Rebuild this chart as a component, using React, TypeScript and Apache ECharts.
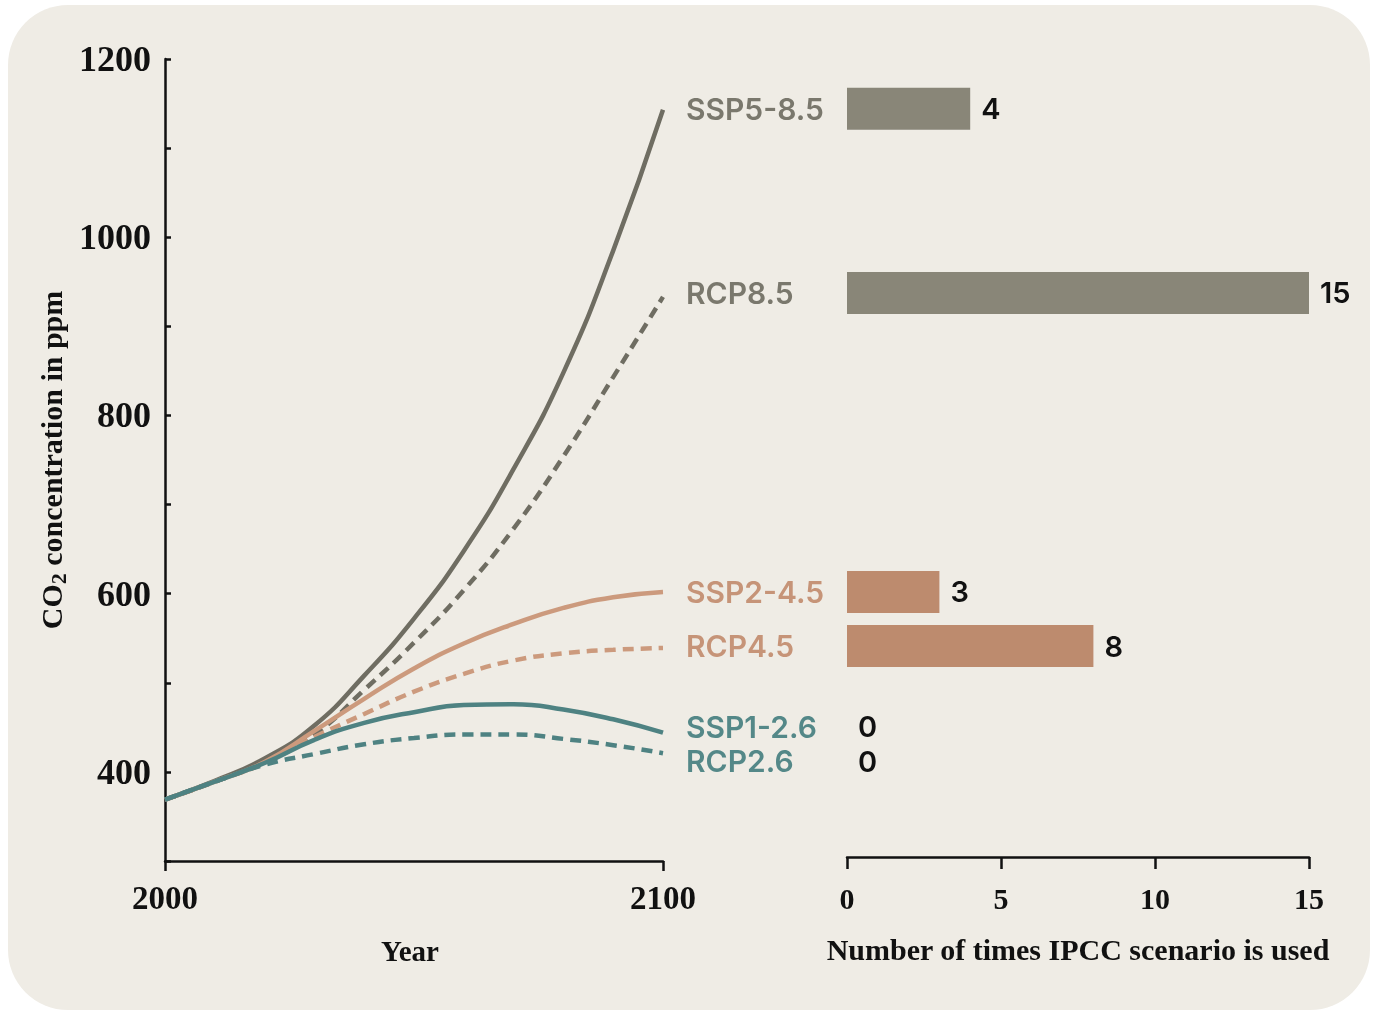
import React, { useEffect, useRef } from "react";
import * as echarts from "echarts";

// ---------- data ----------
const years = [2000, 2010, 2020, 2030, 2040, 2050, 2060, 2070, 2080, 2090, 2100];
const ssp585 = [369, 390, 415, 452, 508, 572, 648, 740, 848, 985, 1143];
const rcp85 = [369, 389, 412, 442, 492, 545, 604, 673, 754, 843, 933];
const ssp245 = [369, 389, 411, 446, 482, 516, 544, 566, 584, 596, 602];
const rcp45 = [369, 389, 410, 439, 465, 490, 510, 525, 533, 537, 539];
const ssp126 = [369, 389, 410, 436, 455, 467, 475, 476, 470, 459, 444];
const rcp26 = [369, 389, 408, 420, 431, 438, 442, 442, 437, 430, 421];

const scenarioNames = ["SSP5-8.5", "RCP8.5", "SSP2-4.5", "RCP4.5", "SSP1-2.6", "RCP2.6"];
const scenarioValues = [ssp585, rcp85, ssp245, rcp45, ssp126, rcp26];
const timesUsed = [4, 15, 3, 8, 0, 0];

const yTickLabels = [400, 600, 800, 1000, 1200];
const yearTicks = [2000, 2100];
const countTicks = [0, 5, 10, 15];

// ---------- styles ----------
const SERIF = "'Liberation Serif', 'Times New Roman', serif";
const SANS = "Inter, 'Noto Sans', sans-serif";
const INK = "#111111";
const PANEL = "#efece5";

const lineColors = ["#6f6d62", "#6f6d62", "#cc9a7d", "#cc9a7d", "#4e8282", "#4e8282"];
const barColors = ["#898678", "#898678", "#bd8b6e", "#bd8b6e", "#4e8282", "#4e8282"];
const textColors = ["#7a786d", "#7a786d", "#c69478", "#c69478", "#548888", "#548888"];
const dashed = [false, true, false, true, false, true];
// pixel nudges of each row (label + bar) away from the exact line end, for legibility
const rowNudge = [-1, -4, 0, -2, -6, 8];

export default function App() {
  const ref = useRef<HTMLDivElement>(null);

  useEffect(() => {
    if (!ref.current) return;
    const chart = echarts.init(ref.current, null, { renderer: "svg" });

    const endValues = scenarioValues.map((v) => v[v.length - 1]);

    const lineSeries = scenarioNames.map((name, i) => ({
      type: "line",
      name,
      xAxisIndex: 0,
      yAxisIndex: 0,
      data: years.map((y, k) => [y, scenarioValues[i][k]]),
      smooth: 0.5,
      symbol: "none",
      showSymbol: false,
      silent: true,
      z: 2 + Math.floor(i / 2),
      lineStyle: {
        color: lineColors[i],
        width: 4.5,
        type: dashed[i] ? [11, 7] : "solid",
        cap: "butt",
      },
    }));

    const barSeries = {
      type: "custom",
      xAxisIndex: 1,
      yAxisIndex: 1,
      clip: false,
      silent: true,
      z: 10,
      data: scenarioNames.map((_, i) => [timesUsed[i], endValues[i], i]),
      renderItem: (params: any, api: any) => {
        const count = api.value(0);
        const v = api.value(1);
        const i = api.value(2);
        const p0 = api.coord([0, v]);
        const p1 = api.coord([count, v]);
        const h = 42;
        const cy = p0[1] + rowNudge[i];
        const children: any[] = [];
        if (count > 0) {
          children.push({
            type: "rect",
            shape: { x: p0[0], y: cy - h / 2, width: p1[0] - p0[0], height: h },
            style: { fill: barColors[i] },
          });
        }
        children.push({
          type: "text",
          x: p1[0] + 11,
          y: cy,
          style: {
            text: String(count),
            fill: INK,
            fontFamily: SANS,
            fontWeight: 600,
            fontSize: 29,
            align: "left",
            verticalAlign: "middle",
          },
        });
        children.push({
          type: "text",
          x: p0[0] - 161,
          y: cy,
          style: {
            text: scenarioNames[i],
            fill: textColors[i],
            fontFamily: SANS,
            fontWeight: 600,
            fontSize: 30,
            align: "left",
            verticalAlign: "middle",
          },
        });
        return { type: "group", children };
      },
    };

    const axisLine = { show: true, lineStyle: { color: INK, width: 2.5 } };

    const option: any = {
      animation: false,
      backgroundColor: "transparent",
      graphic: [
        {
          type: "rect",
          z: -10,
          silent: true,
          shape: { x: 8, y: 5, width: 1362, height: 1005, r: 60 },
          style: { fill: PANEL },
        },
      ],
      grid: [
        { left: 165, top: 59, width: 498, height: 802 },
        { left: 847, top: 59, width: 462, height: 802 },
      ],
      xAxis: [
        {
          type: "value",
          gridIndex: 0,
          min: yearTicks[0],
          max: yearTicks[yearTicks.length - 1],
          interval: 100,
          axisLine,
          axisTick: { show: true, length: 10, lineStyle: { color: INK, width: 2.5 } },
          splitLine: { show: false },
          axisLabel: {
            formatter: (v: number) => (yearTicks.includes(v) ? String(v) : ""),
            fontFamily: SERIF,
            fontSize: 33,
            fontWeight: "bold",
            color: INK,
            margin: 20,
          },
          name: "Year",
          nameLocation: "middle",
          nameGap: 75,
          nameTextStyle: { fontFamily: SERIF, fontSize: 29, fontWeight: "bold", color: INK, padding: [0, 8, 0, 0] },
        },
        {
          type: "value",
          gridIndex: 1,
          min: countTicks[0],
          max: countTicks[countTicks.length - 1],
          interval: 5,
          offset: -4,
          axisLine,
          axisTick: { show: true, length: 12, lineStyle: { color: INK, width: 2.5 } },
          splitLine: { show: false },
          axisLabel: {
            formatter: (v: number) => (countTicks.includes(v) ? String(v) : ""),
            fontFamily: SERIF,
            fontSize: 30,
            fontWeight: "bold",
            color: INK,
            margin: 26,
          },
          name: "Number of times IPCC scenario is used",
          nameLocation: "middle",
          nameGap: 77,
          nameTextStyle: { fontFamily: SERIF, fontSize: 30, fontWeight: "bold", color: INK },
        },
      ],
      yAxis: [
        {
          type: "value",
          gridIndex: 0,
          min: 300,
          max: 1200,
          interval: 100,
          axisLine,
          axisTick: { show: true, inside: true, length: 6, lineStyle: { color: INK, width: 2.5 } },
          splitLine: { show: false },
          axisLabel: {
            formatter: (v: number) => (yTickLabels.includes(v) ? String(v) : ""),
            fontFamily: SERIF,
            fontSize: 36,
            fontWeight: "bold",
            color: INK,
            margin: 14,
          },
          name: "{a|CO}{b|2}{a| concentration in ppm}",
          nameLocation: "middle",
          nameRotate: 90,
          nameGap: 96,
          nameTextStyle: {
            rich: {
              a: { fontFamily: SERIF, fontSize: 30, fontWeight: "bold", color: INK },
              b: {
                fontFamily: SERIF,
                fontSize: 22,
                fontWeight: "bold",
                color: INK,
                padding: [14, 0, 0, 0],
              },
            },
          },
        },
        {
          type: "value",
          gridIndex: 1,
          min: 300,
          max: 1200,
          show: false,
        },
      ],
      series: [...lineSeries, barSeries],
    };

    chart.setOption(option);
    return () => chart.dispose();
  }, []);

  return (
    <div
      ref={ref}
      style={{ position: "fixed", left: 0, top: 0, width: "1375px", height: "1012px" }}
    />
  );
}
